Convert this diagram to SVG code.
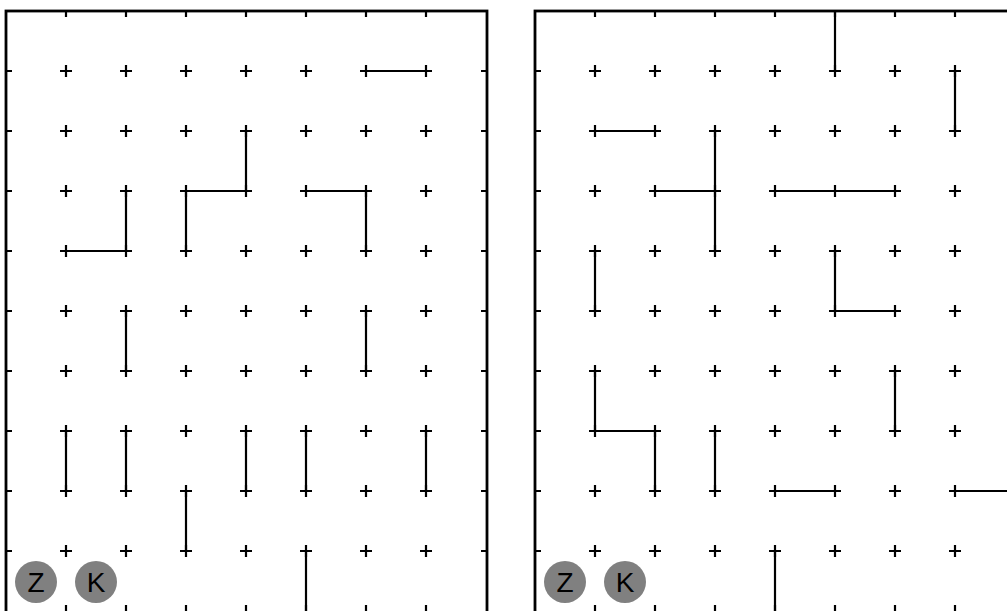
<svg xmlns="http://www.w3.org/2000/svg" width="1007" height="611" viewBox="0 0 1007 611">
<defs>
<style>
.bd{fill:none;stroke:#000;stroke-width:2.8}
.pl{stroke:#000;stroke-width:2.2}
.tk{stroke:#000;stroke-width:2.2}
.cn{stroke:#000;stroke-width:2.2;fill:none}
.bub{fill:#808080}
.lb{font-family:"Liberation Sans",Arial,sans-serif;font-size:28px;fill:#000;text-anchor:middle}
</style>
</defs>
<rect width="1007" height="611" fill="#fff"/>
<g id="panel-left">
<rect class="bd" x="6" y="11" width="481" height="620"/>
<g id="ticks-left" class="tk">
<path d="M66 11v6M126 11v6M186 11v6M246 11v6M306 11v6M366 11v6M426 11v6"/>
<path d="M66 611v-6M126 611v-6M186 611v-6M246 611v-6M306 611v-6M366 611v-6M426 611v-6"/>
<path d="M6 71h6M6 131h6M6 191h6M6 251h6M6 311h6M6 371h6M6 431h6M6 491h6M6 551h6"/>
<path d="M487 71h-6M487 131h-6M487 191h-6M487 251h-6M487 311h-6M487 371h-6M487 431h-6M487 491h-6M487 551h-6"/>
</g>
<g id="grid-left" class="pl">
<path d="M60 71h12M120 71h12M180 71h12M240 71h12M300 71h12M360 71h12M420 71h12
M60 131h12M120 131h12M180 131h12M240 131h12M300 131h12M360 131h12M420 131h12
M60 191h12M120 191h12M180 191h12M240 191h12M300 191h12M360 191h12M420 191h12
M60 251h12M120 251h12M180 251h12M240 251h12M300 251h12M360 251h12M420 251h12
M60 311h12M120 311h12M180 311h12M240 311h12M300 311h12M360 311h12M420 311h12
M60 371h12M120 371h12M180 371h12M240 371h12M300 371h12M360 371h12M420 371h12
M60 431h12M120 431h12M180 431h12M240 431h12M300 431h12M360 431h12M420 431h12
M60 491h12M120 491h12M180 491h12M240 491h12M300 491h12M360 491h12M420 491h12
M60 551h12M120 551h12M180 551h12M240 551h12M300 551h12M360 551h12M420 551h12"/>
<path d="M66 65v12M126 65v12M186 65v12M246 65v12M306 65v12M366 65v12M426 65v12
M66 125v12M126 125v12M186 125v12M246 125v12M306 125v12M366 125v12M426 125v12
M66 185v12M126 185v12M186 185v12M246 185v12M306 185v12M366 185v12M426 185v12
M66 245v12M126 245v12M186 245v12M246 245v12M306 245v12M366 245v12M426 245v12
M66 305v12M126 305v12M186 305v12M246 305v12M306 305v12M366 305v12M426 305v12
M66 365v12M126 365v12M186 365v12M246 365v12M306 365v12M366 365v12M426 365v12
M66 425v12M126 425v12M186 425v12M246 425v12M306 425v12M366 425v12M426 425v12
M66 485v12M126 485v12M186 485v12M246 485v12M306 485v12M366 485v12M426 485v12
M66 545v12M126 545v12M186 545v12M246 545v12M306 545v12M366 545v12M426 545v12"/>
</g>
<g id="connectors-left" class="cn">
<path d="M366 71H426"/>
<path d="M246 131V191H186V251"/>
<path d="M306 191H366V251"/>
<path d="M126 191V251H66"/>
<path d="M126 311V371"/>
<path d="M366 311V371"/>
<path d="M66 431V491M126 431V491M246 431V491M306 431V491M426 431V491"/>
<path d="M186 491V551"/>
<path d="M306 551V611"/>
</g>
<g id="node-z-left"><circle class="bub" cx="36" cy="582" r="21"/><text class="lb" x="36" y="592">Z</text></g>
<g id="node-k-left"><circle class="bub" cx="96" cy="582" r="21"/><text class="lb" x="96" y="592">K</text></g>
</g>
<g id="panel-right">
<rect class="bd" x="535" y="11" width="481" height="620"/>
<g id="ticks-right" class="tk">
<path d="M595 11v6M655 11v6M715 11v6M775 11v6M835 11v6M895 11v6M955 11v6"/>
<path d="M595 611v-6M655 611v-6M715 611v-6M775 611v-6M835 611v-6M895 611v-6M955 611v-6"/>
<path d="M535 71h6M535 131h6M535 191h6M535 251h6M535 311h6M535 371h6M535 431h6M535 491h6M535 551h6"/>
</g>
<g id="grid-right" class="pl">
<path d="M589 71h12M649 71h12M709 71h12M769 71h12M829 71h12M889 71h12M949 71h12
M589 131h12M649 131h12M709 131h12M769 131h12M829 131h12M889 131h12M949 131h12
M589 191h12M649 191h12M709 191h12M769 191h12M829 191h12M889 191h12M949 191h12
M589 251h12M649 251h12M709 251h12M769 251h12M829 251h12M889 251h12M949 251h12
M589 311h12M649 311h12M709 311h12M769 311h12M829 311h12M889 311h12M949 311h12
M589 371h12M649 371h12M709 371h12M769 371h12M829 371h12M889 371h12M949 371h12
M589 431h12M649 431h12M709 431h12M769 431h12M829 431h12M889 431h12M949 431h12
M589 491h12M649 491h12M709 491h12M769 491h12M829 491h12M889 491h12M949 491h12
M589 551h12M649 551h12M709 551h12M769 551h12M829 551h12M889 551h12M949 551h12"/>
<path d="M595 65v12M655 65v12M715 65v12M775 65v12M835 65v12M895 65v12M955 65v12
M595 125v12M655 125v12M715 125v12M775 125v12M835 125v12M895 125v12M955 125v12
M595 185v12M655 185v12M715 185v12M775 185v12M835 185v12M895 185v12M955 185v12
M595 245v12M655 245v12M715 245v12M775 245v12M835 245v12M895 245v12M955 245v12
M595 305v12M655 305v12M715 305v12M775 305v12M835 305v12M895 305v12M955 305v12
M595 365v12M655 365v12M715 365v12M775 365v12M835 365v12M895 365v12M955 365v12
M595 425v12M655 425v12M715 425v12M775 425v12M835 425v12M895 425v12M955 425v12
M595 485v12M655 485v12M715 485v12M775 485v12M835 485v12M895 485v12M955 485v12
M595 545v12M655 545v12M715 545v12M775 545v12M835 545v12M895 545v12M955 545v12"/>
</g>
<g id="connectors-right" class="cn">
<path d="M835 11V71"/>
<path d="M955 71V131"/>
<path d="M595 131H655"/>
<path d="M715 131V251M655 191H715"/>
<path d="M775 191H895"/>
<path d="M595 251V311"/>
<path d="M835 251V311H895"/>
<path d="M595 371V431H655V491"/>
<path d="M715 431V491"/>
<path d="M895 371V431"/>
<path d="M775 491H835"/>
<path d="M955 491H1015"/>
<path d="M775 551V611"/>
</g>
<g id="node-z-right"><circle class="bub" cx="565" cy="582" r="21"/><text class="lb" x="565" y="592">Z</text></g>
<g id="node-k-right"><circle class="bub" cx="625" cy="582" r="21"/><text class="lb" x="625" y="592">K</text></g>
</g>
</svg>
